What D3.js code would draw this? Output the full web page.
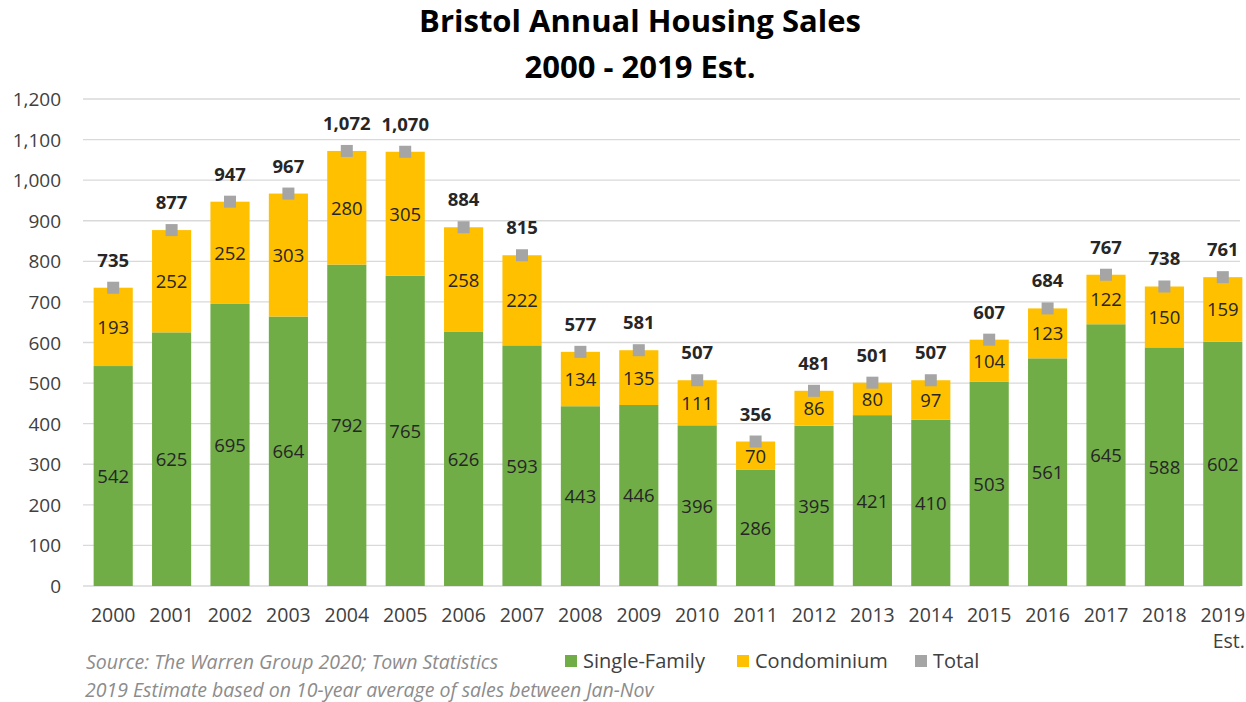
<!DOCTYPE html>
<html>
<head>
<meta charset="utf-8">
<script src="https://cdn.jsdelivr.net/npm/d3@7"></script>
<style>
  body { margin: 0; background: #fff; }
  svg { font-family: "Open Sans", "Noto Sans", sans-serif; }
</style>
</head>
<body>
<svg id="chart" width="1246" height="702"></svg>
<script>
const years = ["2000", "2001", "2002", "2003", "2004", "2005", "2006", "2007", "2008", "2009",
  "2010", "2011", "2012", "2013", "2014", "2015", "2016", "2017", "2018", "2019"];
const singleFamily = [542, 625, 695, 664, 792, 765, 626, 593, 443, 446, 396, 286, 395, 421, 410, 503, 561, 645, 588, 602];
const condo = [193, 252, 252, 303, 280, 305, 258, 222, 134, 135, 111, 70, 86, 80, 97, 104, 123, 122, 150, 159];
const totals = [735, 877, 947, 967, 1072, 1070, 884, 815, 577, 581, 507, 356, 481, 501, 507, 607, 684, 767, 738, 761];
const yTicks = [0, 100, 200, 300, 400, 500, 600, 700, 800, 900, 1000, 1100, 1200];

const svg = d3.select("#chart");
const green = "#70AD47", gold = "#FFC000", grey = "#A5A5A5";

const x = d3.scaleBand().domain(years).range([84, 1252]).paddingInner(0.33).paddingOuter(0.165);
const y = d3.scaleLinear().domain([0, 1200]).range([586, 99]);
const fmt = d3.format(",");

// title
svg.append("text").attr("x", 640).attr("y", 32).attr("text-anchor", "middle")
  .attr("font-size", 31).attr("font-weight", "bold").attr("fill", "#000").text("Bristol Annual Housing Sales");
svg.append("text").attr("x", 640).attr("y", 78).attr("text-anchor", "middle")
  .attr("font-size", 31).attr("font-weight", "bold").attr("fill", "#000").text("2000 - 2019 Est.");

// gridlines + y labels
svg.append("g").selectAll("line").data(yTicks).join("line")
  .attr("x1", 83).attr("x2", 1240)
  .attr("y1", d => y(d)).attr("y2", d => y(d))
  .attr("stroke", "#d9d9d9").attr("stroke-width", 1.3);
svg.append("g").selectAll("text").data(yTicks).join("text")
  .attr("x", 61).attr("y", d => y(d) + 7).attr("text-anchor", "end")
  .attr("font-size", 19).attr("fill", "#404040").text(d => fmt(d));

const rows = years.map((yr, i) => ({ yr, sf: singleFamily[i], co: condo[i], tot: totals[i] }));

// bars
const g = svg.append("g");
g.selectAll(".sf").data(rows).join("rect")
  .attr("x", d => x(d.yr)).attr("width", x.bandwidth())
  .attr("y", d => y(d.sf)).attr("height", d => y(0) - y(d.sf)).attr("fill", green);
g.selectAll(".co").data(rows).join("rect")
  .attr("x", d => x(d.yr)).attr("width", x.bandwidth())
  .attr("y", d => y(d.sf + d.co)).attr("height", d => y(d.sf) - y(d.sf + d.co)).attr("fill", gold);

// value labels inside bars
g.selectAll(".sfl").data(rows).join("text")
  .attr("x", d => x(d.yr) + x.bandwidth() / 2).attr("y", d => (y(0) + y(d.sf)) / 2 + 7)
  .attr("text-anchor", "middle").attr("font-size", 18.5).attr("fill", "#262626").text(d => d.sf);
g.selectAll(".col").data(rows).join("text")
  .attr("x", d => x(d.yr) + x.bandwidth() / 2).attr("y", d => (y(d.sf) + y(d.sf + d.co)) / 2 + 7)
  .attr("text-anchor", "middle").attr("font-size", 18.5).attr("fill", "#262626").text(d => d.co);

// total markers
g.selectAll(".tm").data(rows).join("rect")
  .attr("x", d => x(d.yr) + x.bandwidth() / 2 - 6).attr("y", d => y(d.tot) - 6)
  .attr("width", 12).attr("height", 12).attr("fill", grey);
g.selectAll(".tl").data(rows).join("text")
  .attr("x", d => x(d.yr) + x.bandwidth() / 2).attr("y", d => y(d.tot) - 21)
  .attr("text-anchor", "middle").attr("font-size", 18.5).attr("font-weight", "bold")
  .attr("fill", "#262626").text(d => fmt(d.tot));

// x labels
svg.append("g").selectAll("text").data(years).join("text")
  .attr("x", d => x(d) + x.bandwidth() / 2).attr("y", 622)
  .attr("text-anchor", "middle").attr("font-size", 19.5).attr("fill", "#404040").text(d => d);
svg.append("text").attr("x", x("2019") + x.bandwidth() / 2 + 6).attr("y", 648)
  .attr("text-anchor", "middle").attr("font-size", 19.5).attr("fill", "#404040").text("Est.");

// footnotes
svg.append("text").attr("x", 86).attr("y", 669).attr("font-size", 19.5).attr("font-style", "italic")
  .attr("fill", "#8c8c8c").text("Source: The Warren Group 2020; Town Statistics");
svg.append("text").attr("x", 85).attr("y", 697).attr("font-size", 19.5).attr("font-style", "italic")
  .attr("fill", "#8c8c8c").text("2019 Estimate based on 10-year average of sales between Jan-Nov");

// legend
const legend = [
  { name: "Single-Family", color: green, x: 565 },
  { name: "Condominium", color: gold, x: 737 },
  { name: "Total", color: grey, x: 915 }
];
const lg = svg.append("g").selectAll("g").data(legend).join("g")
  .attr("transform", d => "translate(" + d.x + ",655)");
lg.append("rect").attr("width", 12).attr("height", 12).attr("fill", d => d.color);
lg.append("text").attr("x", 18).attr("y", 13).attr("font-size", 20).attr("fill", "#404040").text(d => d.name);
</script>
</body>
</html>
